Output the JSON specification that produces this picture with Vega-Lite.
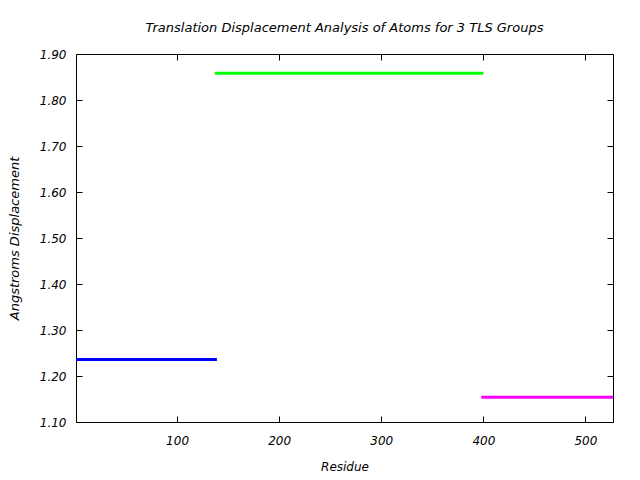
{
  "$schema": "https://vega.github.io/schema/vega-lite/v6.json",
  "autosize": "none",
  "width": 537,
  "height": 368,
  "padding": {"left": 76, "top": 54, "right": 27, "bottom": 58},
  "background": "white",
  "title": {
    "text": "Translation Displacement Analysis of Atoms for 3 TLS Groups",
    "font": "DejaVu Sans",
    "fontStyle": "italic",
    "fontWeight": "normal",
    "fontSize": 13,
    "color": "black",
    "offset": 13
  },
  "config": {
    "view": {"stroke": "black", "strokeWidth": 1},
    "axis": {
      "labelFont": "DejaVu Sans",
      "labelFontStyle": "italic",
      "labelFontSize": 12,
      "labelColor": "black",
      "titleFont": "DejaVu Sans",
      "titleFontStyle": "italic",
      "titleFontWeight": "normal",
      "titleFontSize": 12,
      "titleColor": "black",
      "domain": false,
      "grid": false,
      "tickColor": "black",
      "tickSize": -6
    }
  },
  "data": {
    "values": [
      {"group": "1", "start": 1, "end": 139, "value": 1.236},
      {"group": "2", "start": 137, "end": 400, "value": 1.858},
      {"group": "3", "start": 398, "end": 527, "value": 1.154}
    ]
  },
  "layer": [
    {
      "mark": {"type": "rule", "strokeWidth": 3},
      "encoding": {
        "x": {"field": "start", "type": "quantitative", "scale": {"domain": [1, 527], "nice": false, "zero": false},
              "axis": {"orient": "bottom", "title": "Residue", "values": [100, 200, 300, 400, 500], "titlePadding": 15, "labelPadding": 19}},
        "x2": {"field": "end"},
        "y": {"field": "value", "type": "quantitative", "scale": {"domain": [1.1, 1.9], "nice": false, "zero": false},
              "axis": {"orient": "left", "title": "Angstroms Displacement", "titleFontSize": 13, "values": [1.1, 1.2, 1.3, 1.4, 1.5, 1.6, 1.7, 1.8, 1.9], "format": ".2f", "titlePadding": 18, "labelPadding": 16}},
        "color": {"field": "group", "type": "nominal", "scale": {"domain": ["1", "2", "3"], "range": ["#0000ff", "#00ff00", "#ff00ff"]}, "legend": null}
      }
    },
    {
      "mark": {"type": "rule", "opacity": 0},
      "encoding": {
        "x": {"field": "start", "type": "quantitative",
              "axis": {"orient": "top", "title": null, "labels": false, "values": [100, 200, 300, 400, 500]}},
        "x2": {"field": "end"},
        "y": {"field": "value", "type": "quantitative",
              "axis": {"orient": "right", "title": null, "labels": false, "values": [1.1, 1.2, 1.3, 1.4, 1.5, 1.6, 1.7, 1.8, 1.9]}}
      }
    }
  ],
  "resolve": {"axis": {"x": "independent", "y": "independent"}}
}
